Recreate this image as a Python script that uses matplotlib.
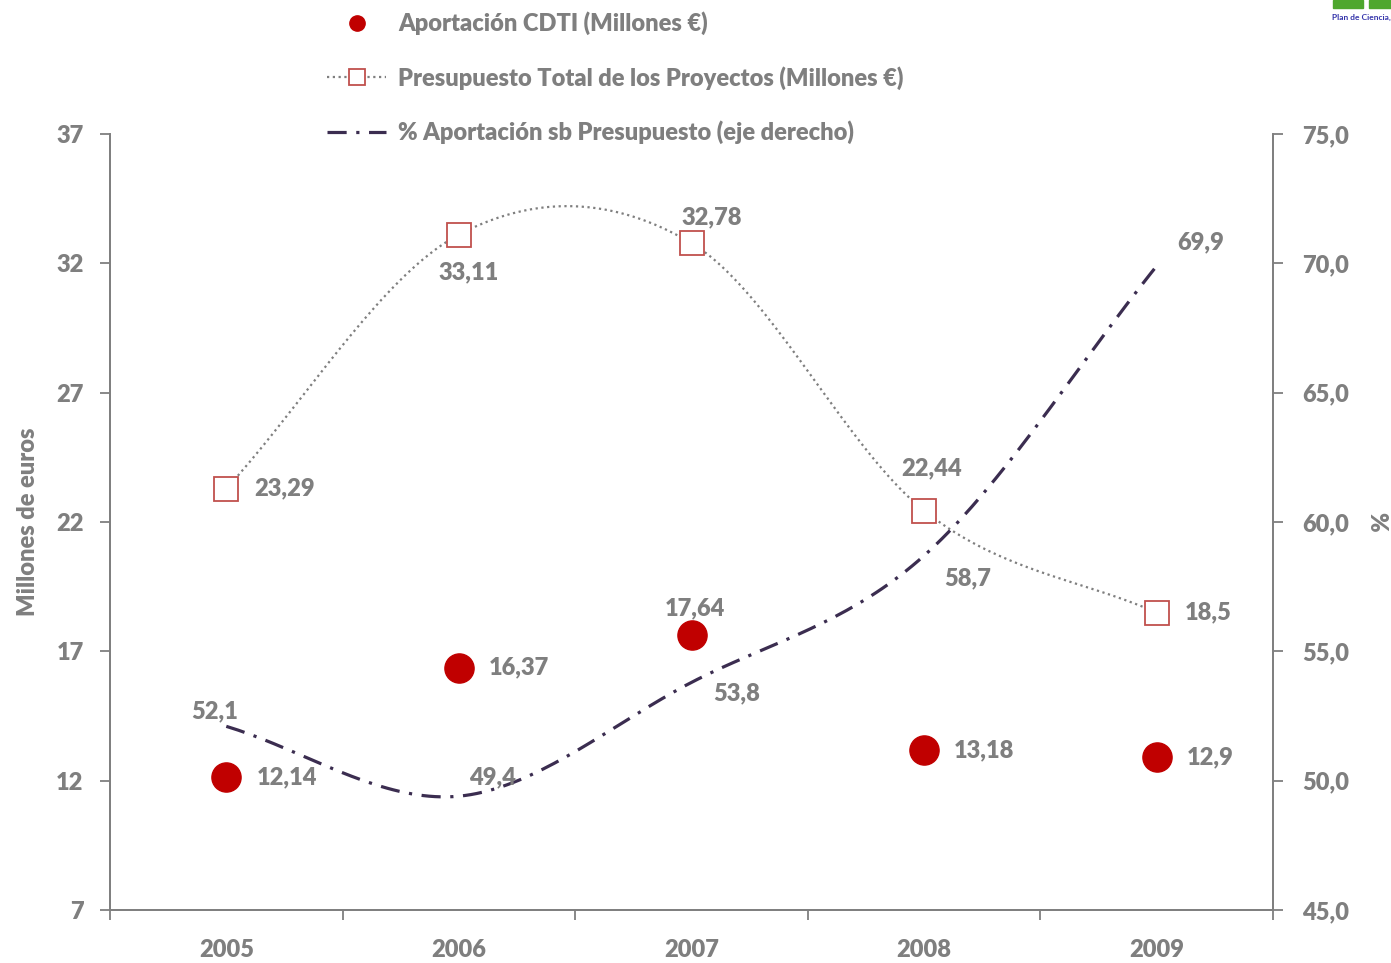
import numpy as np
import matplotlib.pyplot as plt
from matplotlib.lines import Line2D
from matplotlib.patches import Rectangle

years = ['2005', '2006', '2007', '2008', '2009']
aportacion = [12.14, 16.37, 17.64, 13.18, 12.9]
presupuesto = [23.29, 33.11, 32.78, 22.44, 18.5]
porcentaje = [52.1, 49.4, 53.8, 58.7, 69.9]

grey = '#7f7f7f'
font = 'Lato'
plt.rcParams['font.family'] = [font, 'DejaVu Sans']
plt.rcParams['font.weight'] = 'bold'
fs = 17


def fmt(v, dec=None):
    s = ('%.*f' % (dec, v)) if dec is not None else ('%g' % v)
    return s.replace('.', ',')


def smooth(y, n=40):
    # curva suave tipo Excel (Catmull-Rom en forma Bezier)
    y = np.asarray(y, float)
    x = np.arange(len(y), dtype=float)
    xs, ys = [], []
    for i in range(len(y) - 1):
        m0 = (y[i + 1] - y[i - 1]) / 2 if i > 0 else (y[1] - y[0])
        m1 = (y[i + 2] - y[i]) / 2 if i + 2 < len(y) else (y[-1] - y[-2])
        c1 = y[i] + m0 / 3
        c2 = y[i + 1] - m1 / 3
        t = np.linspace(0, 1, n)
        b = ((1 - t) ** 3 * y[i] + 3 * (1 - t) ** 2 * t * c1
             + 3 * (1 - t) * t ** 2 * c2 + t ** 3 * y[i + 1])
        xs.append(x[i] + t)
        ys.append(b)
    return np.concatenate(xs), np.concatenate(ys)


fig = plt.figure(figsize=(13.91, 9.63), dpi=100)
ax = fig.add_axes([110 / 1391, 53 / 963, 1163 / 1391, 776 / 963])
ax2 = ax.twinx()

xi = np.arange(len(years))

# Presupuesto total
sx, sy = smooth(presupuesto)
ax.plot(sx, sy, color=grey, lw=1.6, linestyle=(0, (1, 1.6)), zorder=2)
ax.plot(xi, presupuesto, linestyle='none', marker='s', ms=17, mfc='white',
        mec='#c0504d', mew=1.3, zorder=3)

# Aportacion CDTI
ax.plot(xi, aportacion, linestyle='none', marker='o', ms=21, color='#c00000', zorder=4)

# % aportacion
px, py = smooth(porcentaje)
ax2.plot(px, py, color='#3b2d50', lw=2.3, linestyle=(0, (6, 3, 1, 3)), zorder=2)

ax.set_xlim(-0.5, 4.5)
ax.set_ylim(7, 37)
ax.set_yticks(np.arange(7, 38, 5))
ax2.set_ylim(45, 75)
ax2.set_yticks(np.arange(45, 76, 5))
ax2.set_yticklabels([fmt(v, 1) for v in np.arange(45, 76, 5)])
ax.set_xticks(np.arange(-0.5, 4.6, 1))
ax.set_xticklabels([])
ax.set_xticks(xi, minor=True)
ax.set_xticklabels(years, minor=True)
ax.tick_params(axis='x', which='minor', length=0, pad=21)

for a in (ax, ax2):
    a.spines['top'].set_visible(False)
    for s in a.spines.values():
        s.set_color(grey)
        s.set_linewidth(1.3)
    a.tick_params(colors=grey, labelsize=fs, width=1.3, length=7, which='major')
    a.tick_params(which='minor', colors=grey, labelsize=fs)
ax.tick_params(axis='y', pad=12)
ax2.tick_params(axis='y', pad=14)
for lab in ax.get_yticklabels() + ax2.get_yticklabels() + ax.get_xticklabels(minor=True):
    lab.set_fontweight('heavy')

ax.set_ylabel('Millones de euros', color=grey, fontsize=fs, fontweight='heavy')
ax.yaxis.set_label_coords(-0.061, 0.5)
ax2.set_ylabel('%', color=grey, fontsize=fs, fontweight='heavy', rotation=270, va='center')
ax2.yaxis.set_label_coords(1.089, 0.5)

lab_kw = dict(color=grey, fontsize=fs, fontweight='heavy')
# etiquetas Aportacion
off_ap = [(30, 0, 'left'), (30, 0, 'left'), (3, 26, 'center'), (30, 0, 'left'), (30, 0, 'left')]
for i, v in enumerate(aportacion):
    dx, dy, ha = off_ap[i]
    ax.annotate(fmt(v), (i, v), xytext=(dx, dy), textcoords='offset pixels',
                ha=ha, va='center', **lab_kw)
off_pr = [(28, 0, 'left'), (10, -38, 'center'), (20, 26, 'center'), (8, 42, 'center'), (28, 0, 'left')]
for i, v in enumerate(presupuesto):
    dx, dy, ha = off_pr[i]
    ax.annotate(fmt(v), (i, v), xytext=(dx, dy), textcoords='offset pixels',
                ha=ha, va='center', **lab_kw)
off_pc = [(-12, 15, 'center'), (34, 19, 'center'), (45, -11, 'center'), (44, -23, 'center'), (44, 24, 'center')]
for i, v in enumerate(porcentaje):
    dx, dy, ha = off_pc[i]
    ax2.annotate(fmt(v), (i, v), xytext=(dx, dy), textcoords='offset pixels',
                 ha=ha, va='center', **lab_kw)

handles = [
    Line2D([], [], linestyle='none', marker='o', ms=11, color='#c00000'),
    Line2D([], [], color=grey, lw=1.6, linestyle=(0, (1, 1.6)), marker='s', ms=11,
           mfc='white', mec='#c0504d', mew=1.3),
    Line2D([], [], color='#3b2d50', lw=2.3, linestyle=(0, (6, 3, 1, 3))),
]
labels = ['Aportación CDTI (Millones €)',
          'Presupuesto Total de los Proyectos (Millones €)',
          '% Aportación sb Presupuesto (eje derecho)']
leg = fig.legend(handles, labels, loc='upper left', bbox_to_anchor=(306 / 1391, 1.01),
                 frameon=False, fontsize=fs, handlelength=2.5, labelspacing=1.3,
                 handletextpad=0.5)
for t in leg.get_texts():
    t.set_color(grey)
    t.set_fontweight('heavy')

# logo recortado arriba a la derecha
fig.patches.append(Rectangle((1333 / 1391, 955 / 963), 30 / 1391, 8 / 963,
                             transform=fig.transFigure, color='#4ea72e'))
fig.patches.append(Rectangle((1369 / 1391, 955 / 963), 22 / 1391, 8 / 963,
                             transform=fig.transFigure, color='#4ea72e'))
fig.text(1332 / 1391, 946 / 963, 'Plan de Ciencia,', fontsize=6,
         color='#3333aa', fontweight='bold', va='center')

fig.savefig('out.png', dpi=100)
